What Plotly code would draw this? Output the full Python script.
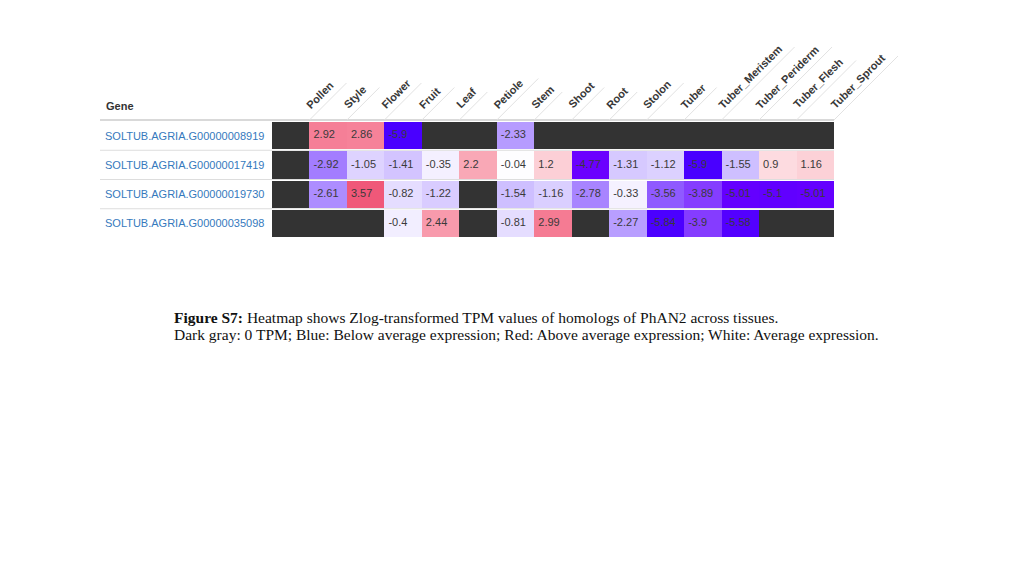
import plotly.graph_objects as go

tissues = ["Pollen", "Style", "Flower", "Fruit", "Leaf", "Petiole", "Stem", "Shoot",
           "Root", "Stolon", "Tuber", "Tuber_Meristem", "Tuber_Periderm", "Tuber_Flesh",
           "Tuber_Sprout"]
genes = ["SOLTUB.AGRIA.G00000008919", "SOLTUB.AGRIA.G00000017419",
         "SOLTUB.AGRIA.G00000019730", "SOLTUB.AGRIA.G00000035098"]
# None = 0 TPM (dark gray)
row_8919 = [None, 2.92, 2.86, -5.9, None, None, -2.33, None, None, None, None, None, None, None, None]
row_17419 = [None, -2.92, -1.05, -1.41, -0.35, 2.2, -0.04, 1.2, -4.77, -1.31, -1.12, -5.9, -1.55, 0.9, 1.16]
row_19730 = [None, -2.61, 3.57, -0.82, -1.22, None, -1.54, -1.16, -2.78, -0.33, -3.56, -3.89, -5.01, -5.1, -5.01]
row_35098 = [None, None, None, -0.4, 2.44, None, -0.81, 2.99, None, -2.27, -5.84, -3.9, -5.58, None, None]
values = [row_8919, row_17419, row_19730, row_35098]

caption_bold = "Figure S7:"
caption_1 = " Heatmap shows Zlog-transformed TPM values of homologs of PhAN2 across tissues."
caption_2 = "Dark gray: 0 TPM; Blue: Below average expression; Red: Above average expression; White: Average expression."

W, H = 1024, 577
OFF = 8                  # page body margin
GX0, GX1 = 272 - OFF, 834 - OFF      # heatmap pixel extent
GY0, GY1 = 121 - OFF, 238 - OFF
TX0 = 100 - OFF          # table left
ncol, nrow = len(tissues), len(genes)
cw = (GX1 - GX0) / ncol
rh = (GY1 - GY0) / nrow

def py(p):
    return 1 - p / H

zmin, zmax = -6, 4
stops = [(-6, "rgb(70,0,255)"), (-4.6, "rgb(112,0,255)"), (-3.5, "rgb(145,95,255)"),
         (-2, "rgb(192,172,255)"), (0, "rgb(255,255,255)"), (1.2, "rgb(252,207,214)"),
         (2.2, "rgb(249,168,182)"), (3, "rgb(245,122,147)"), (4, "rgb(236,62,102)")]
cscale = [[(z - zmin) / (zmax - zmin), c] for z, c in stops]

xs = list(range(ncol))
ys = list(range(nrow))
mask = [[1 if v is None else None for v in row] for row in values]

fig = go.Figure()
fig.add_trace(go.Heatmap(z=mask, x=xs, y=ys, colorscale=[[0, "#333333"], [1, "#333333"]],
                         showscale=False, ygap=2, hoverinfo="skip"))
fig.add_trace(go.Heatmap(z=values, x=xs, y=ys, colorscale=cscale, zmin=zmin, zmax=zmax,
                         showscale=False, ygap=2))

pad = 4 / cw
tx, ty, tt = [], [], []
for i, row in enumerate(values):
    for j, v in enumerate(row):
        if v is not None:
            tx.append(j - 0.5 + pad)
            ty.append(i)
            tt.append(str(v))
fig.add_trace(go.Scatter(x=tx, y=ty, text=tt, mode="text", textposition="middle right",
                         textfont=dict(family="Liberation Sans, Arial", size=11, color="#3a3a3a"),
                         hoverinfo="skip", showlegend=False))

shapes = []
shapes.append(dict(type="line", xref="paper", yref="paper", x0=TX0 / W, x1=GX1 / W,
                   y0=py(GY0 - 1), y1=py(GY0 - 1), line=dict(color="#d9d9d9", width=2), layer="below"))
for k in range(1, nrow):
    yy = GY0 + k * rh
    shapes.append(dict(type="line", xref="paper", yref="paper", x0=TX0 / W, x1=GX1 / W,
                       y0=py(yy), y1=py(yy), line=dict(color="#dddddd", width=1), layer="below"))

annotations = []
for j, t in enumerate(tissues):
    xr = GX0 + (j + 1) * cw
    L = 4.5 * len(t) + 10
    shapes.append(dict(type="line", xref="paper", yref="paper", x0=xr / W, y0=py(GY0 - 1),
                       x1=(xr + L) / W, y1=py(GY0 - 1 - L), line=dict(color="#e2e2e2", width=1)))
    annotations.append(dict(x=(xr - 7) / W, y=py(112 - OFF), xref="paper", yref="paper",
                            text="<b>" + t + "</b>",
                            textangle=-45, xanchor="left", yanchor="bottom", showarrow=False,
                            font=dict(family="Liberation Sans, Arial", size=11, color="#383838"),
                            borderpad=0))

annotations.append(dict(x=(104 - OFF) / W, y=py(106 - OFF), xref="paper", yref="paper", text="<b>Gene</b>",
                        xanchor="left", yanchor="middle", showarrow=False,
                        font=dict(family="Liberation Sans, Arial", size=11, color="#333333")))
for i, g in enumerate(genes):
    annotations.append(dict(x=(103 - OFF) / W, y=i, xref="paper", yref="y", text=g, xanchor="left",
                            yanchor="middle", showarrow=False,
                            font=dict(family="Liberation Sans, Arial", size=11, color="#3579bd")))

annotations.append(dict(x=(172 - OFF) / W, y=py(317 - OFF), xref="paper", yref="paper",
                        text="<b>" + caption_bold + "</b>" + caption_1, xanchor="left", yanchor="middle",
                        showarrow=False, font=dict(family="Liberation Serif, Times New Roman", size=15.5, color="#111111")))
annotations.append(dict(x=(172 - OFF) / W, y=py(334 - OFF), xref="paper", yref="paper",
                        text=caption_2, xanchor="left", yanchor="middle",
                        showarrow=False, font=dict(family="Liberation Serif, Times New Roman", size=15.5, color="#111111")))

fig.update_layout(
    width=W, height=H, autosize=False, margin=dict(l=0, r=0, t=0, b=0),
    paper_bgcolor="white", plot_bgcolor="white", showlegend=False,
    xaxis=dict(domain=[GX0 / W, GX1 / W], range=[-0.5, ncol - 0.5], visible=False, fixedrange=True),
    yaxis=dict(domain=[py(GY1), py(GY0)], range=[nrow - 0.5, -0.5], visible=False, fixedrange=True),
    shapes=shapes, annotations=annotations,
)
fig.write_html("out.html")
